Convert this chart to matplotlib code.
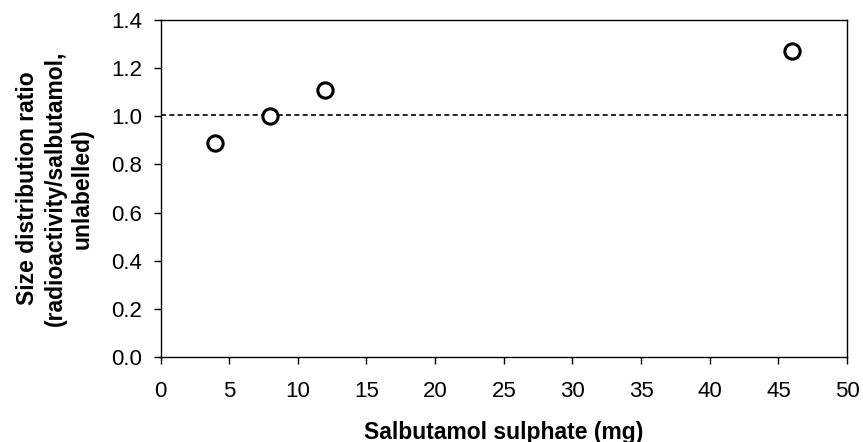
import matplotlib
matplotlib.use("Agg")
import matplotlib.pyplot as plt

plt.rcParams['font.family'] = ['Liberation Sans', 'DejaVu Sans']

# Data
dose_mg = [4, 8, 12, 46]
size_ratio = [0.89, 1.0, 1.11, 1.272]
reference_ratio = 1.005

x_ticks = list(range(0, 51, 5))
y_ticks = [0.0, 0.2, 0.4, 0.6, 0.8, 1.0, 1.2, 1.4]

fig = plt.figure(figsize=(8.63, 4.42), dpi=100)
ax = fig.add_axes([0.186, 0.192, 0.7955, 0.763])

ax.plot(dose_mg, size_ratio, 'o', markersize=11, markerfacecolor='white',
        markeredgecolor='black', markeredgewidth=2.2, zorder=5, clip_on=False)
ax.axhline(reference_ratio, color='black', linestyle=(0, (3, 2)), linewidth=1.2)

ax.set_xlim(0, 50)
ax.set_ylim(0, 1.4)
ax.set_xticks(x_ticks)
ax.set_yticks(y_ticks)
ax.set_yticklabels([f"{v:.1f}" for v in y_ticks])
ax.tick_params(direction='out', length=5, width=1, labelsize=16)
ax.tick_params(axis='y', pad=8)
ax.tick_params(axis='x', pad=12)
for s in ax.spines.values():
    s.set_linewidth(1)

ax.set_xlabel("Salbutamol sulphate (mg)", fontsize=16.5, fontweight='bold')
ax.set_ylabel("Size distribution ratio\n(radioactivity/salbutamol,\nunlabelled)",
              fontsize=16.5, fontweight='bold', linespacing=1.25)
# anchor points: top of the x label, right edge of the rotated y label
ax.xaxis.set_label_coords(0.5, -0.188)
ax.yaxis.set_label_coords(-0.097, 0.5)

fig.savefig("out.png", dpi=100)
plt.close(fig)
